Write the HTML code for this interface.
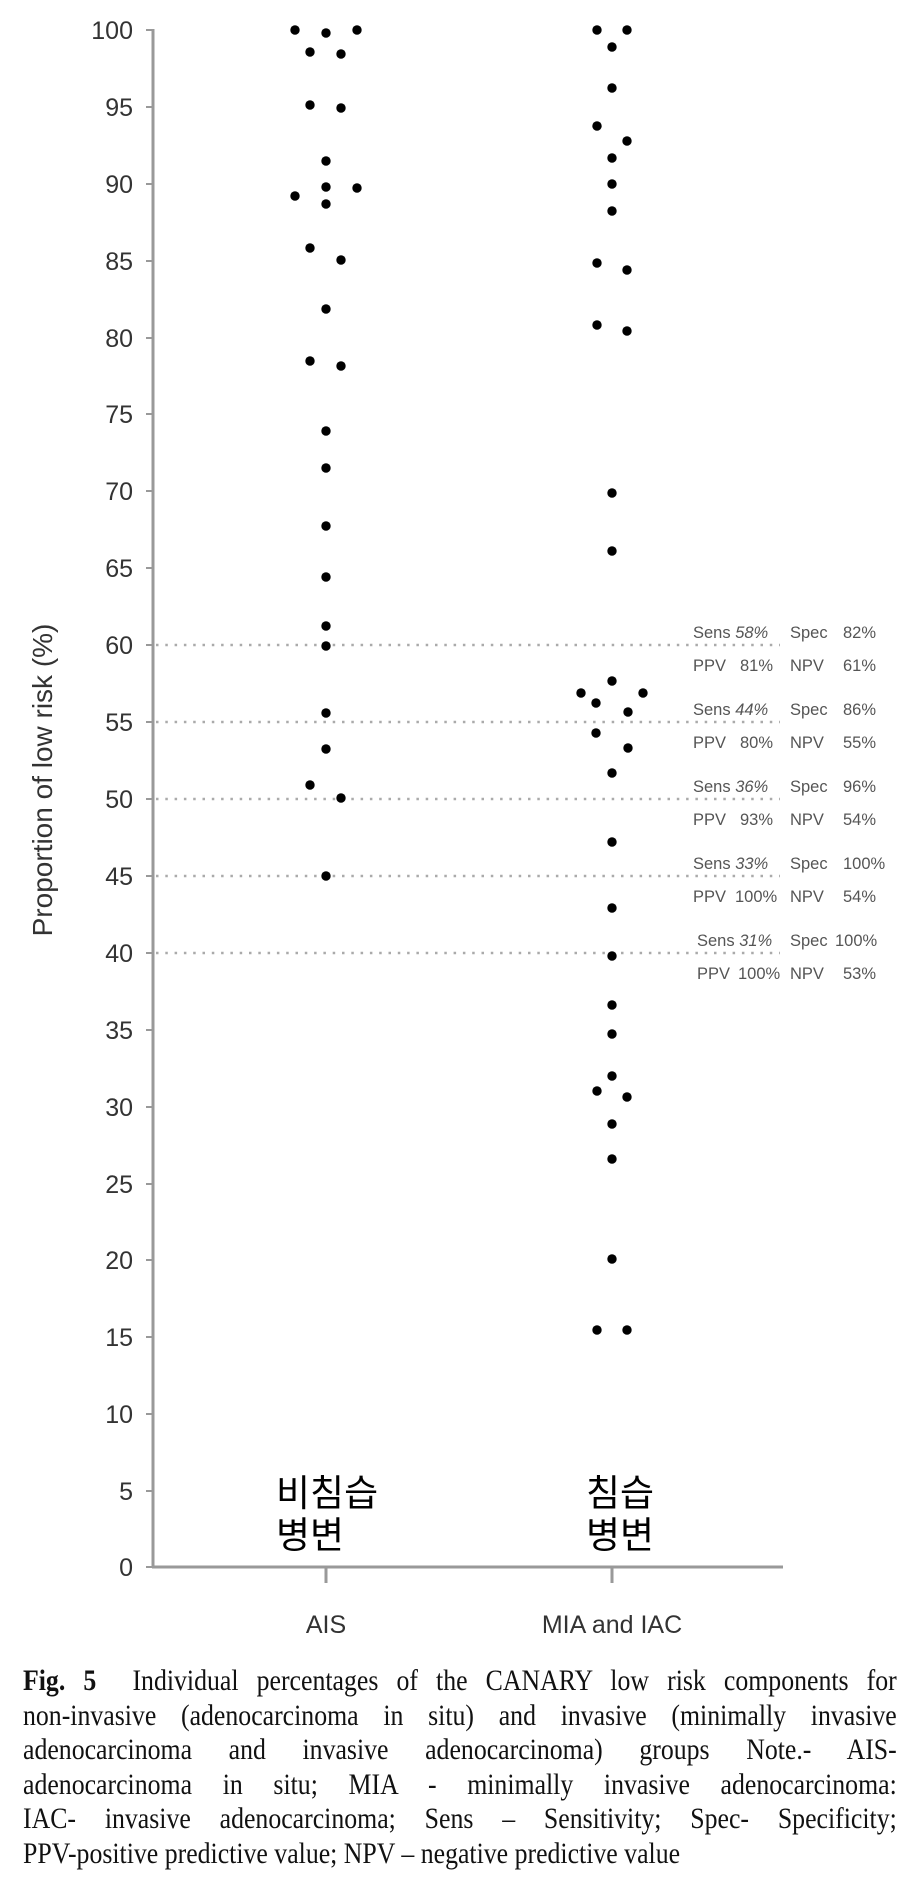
<!DOCTYPE html>
<html><head><meta charset="utf-8"><style>
body{margin:0;background:#fff;width:913px;height:1885px;overflow:hidden;position:relative}
svg{position:absolute;left:0;top:0}
.cap{position:absolute;left:23px;width:874px;font-family:"Liberation Serif",serif;font-size:30px;color:#111;line-height:34.5px;top:1664px}
.cap div{width:1016px;transform:scaleX(0.86);transform-origin:0 0;text-align:justify;text-align-last:justify;white-space:nowrap;height:34.5px}
.cap div.last{text-align-last:left}
</style></head><body>
<svg width="913" height="1885" viewBox="0 0 913 1885" font-family="Liberation Sans, sans-serif">
<g stroke="#999" stroke-width="3" fill="none">
<line x1="153" y1="29" x2="153" y2="1568"/>
<line x1="152" y1="1567" x2="783" y2="1567"/>
<line x1="326" y1="1567" x2="326" y2="1583"/>
<line x1="612" y1="1567" x2="612" y2="1583"/>
</g>
<g stroke="#999" stroke-width="2">
<line x1="146" y1="30" x2="153" y2="30"/><line x1="146" y1="107" x2="153" y2="107"/><line x1="146" y1="184" x2="153" y2="184"/><line x1="146" y1="261" x2="153" y2="261"/><line x1="146" y1="338" x2="153" y2="338"/><line x1="146" y1="414" x2="153" y2="414"/><line x1="146" y1="491" x2="153" y2="491"/><line x1="146" y1="568" x2="153" y2="568"/><line x1="146" y1="645" x2="153" y2="645"/><line x1="146" y1="722" x2="153" y2="722"/><line x1="146" y1="799" x2="153" y2="799"/><line x1="146" y1="876" x2="153" y2="876"/><line x1="146" y1="953" x2="153" y2="953"/><line x1="146" y1="1030" x2="153" y2="1030"/><line x1="146" y1="1107" x2="153" y2="1107"/><line x1="146" y1="1184" x2="153" y2="1184"/><line x1="146" y1="1260" x2="153" y2="1260"/><line x1="146" y1="1337" x2="153" y2="1337"/><line x1="146" y1="1414" x2="153" y2="1414"/><line x1="146" y1="1491" x2="153" y2="1491"/><line x1="146" y1="1567" x2="153" y2="1567"/>
</g>
<g font-size="25" fill="#333" text-anchor="end">
<text x="133" y="39">100</text><text x="133" y="116">95</text><text x="133" y="193">90</text><text x="133" y="270">85</text><text x="133" y="347">80</text><text x="133" y="423">75</text><text x="133" y="500">70</text><text x="133" y="577">65</text><text x="133" y="654">60</text><text x="133" y="731">55</text><text x="133" y="808">50</text><text x="133" y="885">45</text><text x="133" y="962">40</text><text x="133" y="1039">35</text><text x="133" y="1116">30</text><text x="133" y="1193">25</text><text x="133" y="1269">20</text><text x="133" y="1346">15</text><text x="133" y="1423">10</text><text x="133" y="1500">5</text><text x="133" y="1576">0</text>
</g>
<text transform="translate(52,780) rotate(-90)" font-size="28" fill="#333" text-anchor="middle">Proportion of low risk (%)</text>
<g stroke="#aaa" stroke-width="2.5" stroke-dasharray="2.5 6.8">
<line x1="156" y1="645" x2="780" y2="645"/><line x1="156" y1="722" x2="780" y2="722"/><line x1="156" y1="799" x2="780" y2="799"/><line x1="156" y1="876" x2="780" y2="876"/><line x1="156" y1="953" x2="780" y2="953"/>
</g>
<g fill="#000">
<circle cx="295" cy="30" r="4.7"/><circle cx="326" cy="33" r="4.7"/><circle cx="357" cy="30" r="4.7"/>
<circle cx="310" cy="52" r="4.7"/><circle cx="341" cy="54" r="4.7"/>
<circle cx="310" cy="105" r="4.7"/><circle cx="341" cy="108" r="4.7"/>
<circle cx="326" cy="161" r="4.7"/>
<circle cx="326" cy="187" r="4.7"/><circle cx="357" cy="188" r="4.7"/><circle cx="295" cy="196" r="4.7"/><circle cx="326" cy="204" r="4.7"/>
<circle cx="310" cy="248" r="4.7"/><circle cx="341" cy="260" r="4.7"/>
<circle cx="326" cy="309" r="4.7"/>
<circle cx="310" cy="361" r="4.7"/><circle cx="341" cy="366" r="4.7"/>
<circle cx="326" cy="431" r="4.7"/><circle cx="326" cy="468" r="4.7"/>
<circle cx="326" cy="526" r="4.7"/><circle cx="326" cy="577" r="4.7"/><circle cx="326" cy="626" r="4.7"/><circle cx="326" cy="646" r="4.7"/>
<circle cx="326" cy="713" r="4.7"/><circle cx="326" cy="749" r="4.7"/><circle cx="310" cy="785" r="4.7"/><circle cx="341" cy="798" r="4.7"/><circle cx="326" cy="876" r="4.7"/>

<circle cx="597" cy="30" r="4.7"/><circle cx="627" cy="30" r="4.7"/><circle cx="612" cy="47" r="4.7"/><circle cx="612" cy="88" r="4.7"/>
<circle cx="597" cy="126" r="4.7"/><circle cx="627" cy="141" r="4.7"/><circle cx="612" cy="158" r="4.7"/><circle cx="612" cy="184" r="4.7"/><circle cx="612" cy="211" r="4.7"/>
<circle cx="597" cy="263" r="4.7"/><circle cx="627" cy="270" r="4.7"/><circle cx="597" cy="325" r="4.7"/><circle cx="627" cy="331" r="4.7"/>
<circle cx="612" cy="493" r="4.7"/><circle cx="612" cy="551" r="4.7"/>
<circle cx="612" cy="681" r="4.7"/><circle cx="581" cy="693" r="4.7"/><circle cx="643" cy="693" r="4.7"/><circle cx="596" cy="703" r="4.7"/><circle cx="628" cy="712" r="4.7"/>
<circle cx="596" cy="733" r="4.7"/><circle cx="628" cy="748" r="4.7"/><circle cx="612" cy="773" r="4.7"/>
<circle cx="612" cy="842" r="4.7"/><circle cx="612" cy="908" r="4.7"/><circle cx="612" cy="956" r="4.7"/><circle cx="612" cy="1005" r="4.7"/><circle cx="612" cy="1034" r="4.7"/><circle cx="612" cy="1076" r="4.7"/>
<circle cx="597" cy="1091" r="4.7"/><circle cx="627" cy="1097" r="4.7"/><circle cx="612" cy="1124" r="4.7"/><circle cx="612" cy="1159" r="4.7"/><circle cx="612" cy="1259" r="4.7"/>
<circle cx="597" cy="1330" r="4.7"/><circle cx="627" cy="1330" r="4.7"/>
</g>
<g font-size="16.5" fill="#555">
<g transform="translate(0,645)"><text x="693" y="-7">Sens <tspan font-style="italic">58%</tspan></text><text x="790" y="-7">Spec</text><text x="843" y="-7">82%</text><text x="693" y="26">PPV</text><text x="740" y="26">81%</text><text x="790" y="26">NPV</text><text x="843" y="26">61%</text></g>
<g transform="translate(0,722)"><text x="693" y="-7">Sens <tspan font-style="italic">44%</tspan></text><text x="790" y="-7">Spec</text><text x="843" y="-7">86%</text><text x="693" y="26">PPV</text><text x="740" y="26">80%</text><text x="790" y="26">NPV</text><text x="843" y="26">55%</text></g>
<g transform="translate(0,799)"><text x="693" y="-7">Sens <tspan font-style="italic">36%</tspan></text><text x="790" y="-7">Spec</text><text x="843" y="-7">96%</text><text x="693" y="26">PPV</text><text x="740" y="26">93%</text><text x="790" y="26">NPV</text><text x="843" y="26">54%</text></g>
<g transform="translate(0,876)"><text x="693" y="-7">Sens <tspan font-style="italic">33%</tspan></text><text x="790" y="-7">Spec</text><text x="843" y="-7">100%</text><text x="693" y="26">PPV</text><text x="735" y="26">100%</text><text x="790" y="26">NPV</text><text x="843" y="26">54%</text></g>
<g transform="translate(0,953)"><text x="697" y="-7">Sens <tspan font-style="italic">31%</tspan></text><text x="790" y="-7">Spec</text><text x="835" y="-7">100%</text><text x="697" y="26">PPV</text><text x="738" y="26">100%</text><text x="790" y="26">NPV</text><text x="843" y="26">53%</text></g>
</g>
<g font-size="37" fill="#000" font-family="Liberation Sans, Noto Sans CJK KR, sans-serif">
<text x="276" y="1506">비침습</text><text x="276" y="1548">병변</text>
<text x="586" y="1506">침습</text><text x="586" y="1548">병변</text>
</g>
<g font-size="25" fill="#333" text-anchor="middle">
<text x="326" y="1633">AIS</text><text x="612" y="1633">MIA and IAC</text>
</g>
</svg>
<div class="cap">
<div><b>Fig. 5</b>&nbsp; Individual percentages of the CANARY low risk components for</div>
<div>non-invasive (adenocarcinoma in situ) and invasive (minimally invasive</div>
<div>adenocarcinoma and invasive adenocarcinoma) groups Note.- AIS-</div>
<div>adenocarcinoma in situ; MIA - minimally invasive adenocarcinoma:</div>
<div>IAC- invasive adenocarcinoma; Sens – Sensitivity; Spec- Specificity;</div>
<div class="last">PPV-positive predictive value; NPV – negative predictive value</div>
</div>
</body></html>
